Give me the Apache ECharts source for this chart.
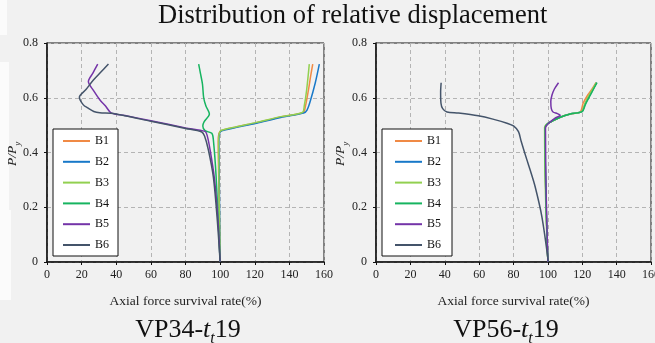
<!DOCTYPE html>
<html>
<head>
<meta charset="utf-8">
<script src="https://cdn.jsdelivr.net/npm/echarts@6/dist/echarts.min.js"></script>
<style>
html, body { margin: 0; padding: 0; background: #f1f1f1; }
#main { width: 655px; height: 343px; }
</style>
</head>
<body>
<div id="main"></div>
<script>
// 系列名称
var names = ['B1', 'B2', 'B3', 'B4', 'B5', 'B6'];
var colors = ['#F08A45', '#1878C8', '#92D050', '#17B460', '#7434A8', '#44546A'];

// VP34-tt19 : [轴力保持率(%), P/Py]
var vp34B1 = [[100,0],[99.2,0.3],[98.9,0.44],[99.3,0.47],[100.6,0.48],[110,0.494],[121,0.509],[135,0.53],[148,0.546],[149.3,0.57],[151,0.628],[152.3,0.68],[153.5,0.723]];
var vp34B2 = [[100,0],[99.5,0.3],[99.3,0.44],[99.7,0.47],[101,0.479],[121,0.507],[135,0.528],[148.2,0.544],[150.2,0.555],[152,0.586],[154.9,0.653],[157.3,0.723]];
var vp34B3 = [[100,0],[99.3,0.3],[99.1,0.44],[99.5,0.47],[100.8,0.481],[110,0.495],[121,0.51],[135,0.531],[147.5,0.546],[148.6,0.57],[150,0.63],[151.5,0.723]];
var vp34B4 = [[100,0],[97.7,0.31],[96.1,0.446],[95.2,0.47],[91.3,0.48],[90,0.497],[90.8,0.513],[93.8,0.541],[91.8,0.57],[90.5,0.6],[89.8,0.65],[88.6,0.69],[87.6,0.723]];
var vp34B5 = [[100,0],[98.8,0.15],[96.6,0.31],[94.2,0.41],[92.6,0.46],[91.3,0.477],[80,0.49],[60,0.516],[45,0.535],[37,0.545],[33.8,0.57],[30.6,0.592],[27,0.625],[23.9,0.659],[26.5,0.69],[29.3,0.723]];
var vp34B6 = [[100,0],[98.4,0.15],[96.1,0.31],[93.2,0.41],[91,0.46],[89.4,0.475],[80,0.488],[60,0.514],[45,0.534],[37,0.543],[30.5,0.545],[27,0.55],[23.5,0.563],[21,0.574],[18.7,0.602],[22.5,0.63],[26.8,0.665],[31,0.693],[35.5,0.723]];

// VP56-tt19
var vp56B1 = [[100,0],[98.8,0.25],[98.3,0.49],[100.3,0.507],[107.2,0.529],[113,0.541],[118.8,0.548],[120.5,0.58],[123.2,0.61],[126,0.635],[128,0.655]];
var vp56B2 = [[100,0],[98.8,0.25],[98.3,0.49],[100.3,0.507],[107.2,0.529],[113,0.541],[119.8,0.549],[121.6,0.576],[124,0.605],[126.4,0.632],[128.3,0.655]];
var vp56B3 = [[100,0],[98.6,0.25],[98.1,0.492],[100.3,0.507],[107.2,0.529],[113,0.541],[119.6,0.549],[121.5,0.578],[123.8,0.607],[126.2,0.633],[128.2,0.655]];
var vp56B4 = [[100,0],[98.8,0.25],[98.4,0.49],[100.3,0.507],[107.2,0.529],[113,0.541],[119.9,0.549],[121.8,0.575],[124.2,0.604],[126.6,0.632],[128.6,0.655]];
var vp56B5 = [[100,0],[99,0.25],[98.6,0.49],[100.5,0.507],[104,0.525],[107.2,0.536],[105.5,0.542],[103,0.548],[102,0.56],[101.7,0.586],[102.4,0.61],[103.8,0.632],[106.2,0.655]];
var vp56B6 = [[100.3,0],[96.5,0.166],[92.6,0.275],[89.7,0.336],[87.8,0.373],[84.5,0.44],[82.9,0.476],[80,0.497],[76.2,0.507],[68,0.522],[59.5,0.534],[48,0.544],[41.3,0.548],[38.8,0.56],[37.8,0.58],[37.6,0.62],[37.9,0.655]];

var vp34Data = [vp34B1, vp34B2, vp34B3, vp34B4, vp34B5, vp34B6];
var vp56Data = [vp56B1, vp56B2, vp56B3, vp56B4, vp56B5, vp56B6];

var serif = 'Liberation Serif';

function makeX(idx) {
    return {
        gridIndex: idx, type: 'value', min: 0, max: 160, interval: 20,
        name: 'Axial force survival rate(%)', nameLocation: 'middle', nameGap: 32,
        nameTextStyle: { fontFamily: serif, fontSize: 13.5, color: '#222' },
        axisLine: { lineStyle: { color: '#111', width: 1.5 } },
        axisTick: { show: true, length: 3, lineStyle: { color: '#111' } },
        axisLabel: { fontFamily: serif, fontSize: 12, color: '#222', margin: 7, showMaxLabel: true },
        splitLine: { show: true, lineStyle: { color: '#b4b4b4', type: [4, 3], width: 1 } }
    };
}
function makeY(idx) {
    return {
        gridIndex: idx, type: 'value', min: 0, max: 0.8, interval: 0.2,
        axisLine: { show: true, lineStyle: { color: '#111', width: 1.5 } },
        axisTick: { show: true, length: 3, lineStyle: { color: '#111' } },
        axisLabel: { fontFamily: serif, fontSize: 12, color: '#222', margin: 9 },
        splitLine: { show: true, lineStyle: { color: '#b4b4b4', type: [4, 3], width: 1 } }
    };
}
function makeLegend(left, pad) {
    return {
        data: names, orient: 'vertical', left: left, top: 129,
        backgroundColor: '#fff', borderColor: '#111', borderWidth: 1, borderRadius: 0,
        padding: pad, icon: 'rect', itemWidth: 27, itemHeight: 2, itemGap: 6.8,
        textStyle: { fontFamily: serif, fontSize: 12, color: '#111', lineHeight: 14 }
    };
}

var series = [];
vp34Data.forEach(function (d, i) {
    series.push({ name: names[i], type: 'line', xAxisIndex: 0, yAxisIndex: 0, data: d,
        symbol: 'none', smooth: 0.3, lineStyle: { width: 1.5, color: colors[i] }, itemStyle: { color: colors[i] } });
});
vp56Data.forEach(function (d, i) {
    series.push({ name: names[i], type: 'line', xAxisIndex: 1, yAxisIndex: 1, data: d,
        symbol: 'none', smooth: 0.3, lineStyle: { width: 1.5, color: colors[i] }, itemStyle: { color: colors[i] } });
});

// y轴名称 P/Py (竖排)
function yName(x) {
    return {
        type: 'text', x: x, y: 166, rotation: Math.PI / 2,
        style: {
            text: '{a|P/P}{b|y}',
            rich: {
                a: { fontFamily: serif, fontStyle: 'italic', fontSize: 13.5, lineHeight: 15, verticalAlign: 'top', fill: '#222' },
                b: { fontFamily: serif, fontStyle: 'italic', fontSize: 9, lineHeight: 17, verticalAlign: 'bottom', fill: '#222' }
            }
        }
    };
}
// 小标题 VP34-tt19
function subTitle(cx, num) {
    return {
        type: 'text', x: cx, y: 317,
        style: {
            text: '{n|VP' + num + '-}{i|t}{s|t}{n|19}', align: 'center',
            rich: {
                n: { fontFamily: serif, fontSize: 26, lineHeight: 27, verticalAlign: 'top', fill: '#111' },
                i: { fontFamily: serif, fontStyle: 'italic', fontSize: 26, lineHeight: 27, verticalAlign: 'top', fill: '#111' },
                s: { fontFamily: serif, fontStyle: 'italic', fontSize: 16, lineHeight: 30, verticalAlign: 'bottom', fill: '#111' }
            }
        }
    };
}

var option = {
    backgroundColor: '#f1f1f1',
    animation: false,
    title: {
        text: 'Distribution of relative displacement', left: 158, top: 3, padding: 0,
        textStyle: { fontFamily: serif, fontSize: 26.5, fontWeight: 'normal', color: '#111' }
    },
    grid: [
        { left: 47, top: 43, width: 277, height: 219, show: true, borderColor: '#111', borderWidth: 1, backgroundColor: 'transparent', outerBoundsMode: 'none' },
        { left: 376, top: 43, width: 275, height: 219, show: true, borderColor: '#111', borderWidth: 1, backgroundColor: 'transparent', outerBoundsMode: 'none' }
    ],
    xAxis: [makeX(0), makeX(1)],
    yAxis: [makeY(0), makeY(1)],
    legend: [makeLegend(53, [5, 9, 4, 10]), makeLegend(382, [5, 11, 4, 13])],
    graphic: [
        { type: 'rect', shape: { x: 0, y: 0, width: 7, height: 35 }, style: { fill: '#fbfbfb' }, z: -10 },
        { type: 'rect', shape: { x: 0, y: 62, width: 9, height: 148 }, style: { fill: '#fbfbfb' }, z: -10 },
        { type: 'rect', shape: { x: 0, y: 210, width: 11, height: 90 }, style: { fill: '#fbfbfb' }, z: -10 },
        yName(5),
        yName(333),
        subTitle(188, '34'),
        subTitle(506, '56')
    ],
    series: series
};

var chart = echarts.init(document.getElementById('main'));
chart.setOption(option);
</script>
</body>
</html>
